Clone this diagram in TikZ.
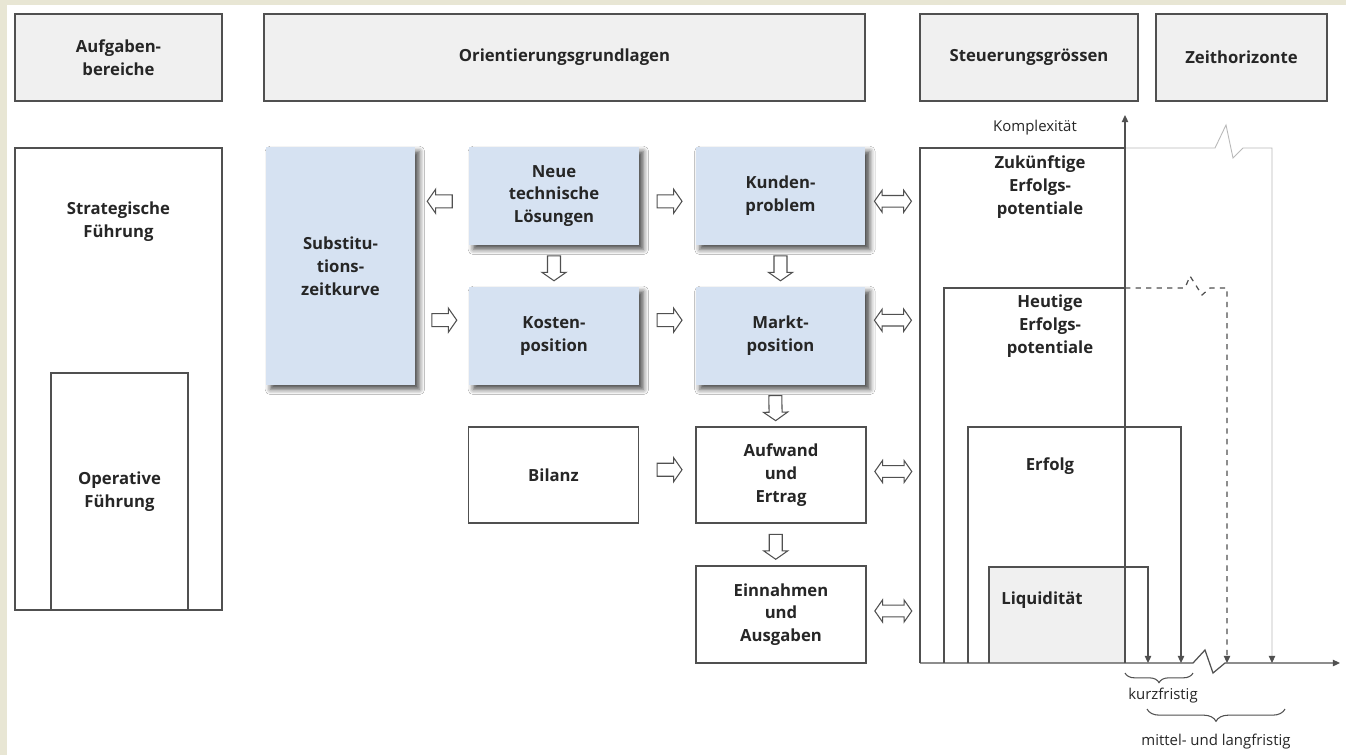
\documentclass[tikz,border=0pt]{standalone}
\usepackage{fontspec}
\setmainfont{Open Sans}
\usetikzlibrary{shapes.arrows,shadows.blur,decorations.pathreplacing,arrows.meta}
\definecolor{beige}{RGB}{232,230,212}
\definecolor{headgray}{RGB}{240,240,240}
\definecolor{lightblue}{RGB}{214,226,242}
\definecolor{linegray}{RGB}{80,80,80}
\tikzset{
  >={Triangle[length=4pt,width=3.6pt]},
  boxtext/.style={font=\bfseries\fontsize{9.5}{13}\selectfont, align=center, text=black!85, inner sep=0pt},
  smalltext/.style={font=\fontsize{8.5}{10}\selectfont, text=black!85, inner sep=0pt},
  headbox/.style={boxtext, draw=linegray, line width=0.8pt, fill=headgray, minimum height=1.74cm},
  plainbox/.style={boxtext, draw=linegray, line width=0.7pt, fill=white},
  bluebox/.style={boxtext, fill=lightblue, blur shadow={shadow xshift=2.5pt, shadow yshift=-2.5pt, shadow blur radius=3pt, shadow opacity=70}},
  chartline/.style={draw=linegray, line width=0.7pt},
  faintline/.style={draw=gray!55, line width=0.5pt},
  blockarrow/.style={single arrow, draw=linegray, fill=white, line width=0.6pt, inner sep=0pt, inner ysep=3.4pt, minimum height=0.5cm, single arrow head extend=3.2pt, single arrow tip angle=110, sloped, allow upside down},
  botharrow/.style={double arrow, draw=linegray, fill=white, line width=0.6pt, inner sep=0pt, inner ysep=3pt, minimum height=0.74cm, double arrow head extend=3pt, double arrow tip angle=110, sloped, allow upside down}
}
\begin{document}
\begin{tikzpicture}[x=0.02cm, y=-0.02cm]
\useasboundingbox (0,0) rectangle (1346,755);
\fill[beige] (0,0) rectangle (1346,755);
\fill[white] (7,5) rectangle (1346,755);
% column heads
\node[headbox, minimum width=4.14cm] (aufgaben) at (118.5,57.5) {Aufgaben-\\bereiche};
\node[headbox, minimum width=12.02cm] (orient) at (564.5,57.5) {Orientierungsgrundlagen};
\node[headbox, minimum width=4.36cm] (steuer) at (1029,57.5) {Steuerungsgrössen};
\node[headbox, minimum width=3.42cm] (zeit) at (1241.5,57.5) {Zeithorizonte};
% Aufgabenbereiche
\node[plainbox, minimum width=4.14cm, minimum height=9.24cm] (strat) at (118.5,379) {};
\node[boxtext] (strattxt) at (118.5,222) {Strategische\\Führung};
\node[plainbox, minimum width=2.74cm, minimum height=4.74cm] (oper) at (119.5,491.5) {Operative\\Führung};
% Orientierungsgrundlagen
\node[bluebox, minimum width=2.98cm, minimum height=4.76cm] (subst) at (340.5,266) {Substitu-\\tions-\\zeitkurve};
\node[bluebox, minimum width=3.4cm, minimum height=1.96cm] (neu) at (554,196) {Neue\\technische\\Lösungen};
\node[bluebox, minimum width=3.4cm, minimum height=1.96cm] (kunde) at (780.5,196) {Kunden-\\problem};
\node[bluebox, minimum width=3.4cm, minimum height=1.96cm] (kosten) at (554,336) {Kosten-\\position};
\node[bluebox, minimum width=3.4cm, minimum height=1.96cm] (markt) at (780.5,336) {Markt-\\position};
\node[plainbox, minimum width=3.4cm, minimum height=1.92cm] (bilanz) at (553.5,475) {Bilanz};
\node[plainbox, minimum width=3.4cm, minimum height=1.92cm] (aufwand) at (781,475) {Aufwand\\und\\Ertrag};
\node[plainbox, minimum width=3.4cm, minimum height=1.94cm] (einnahmen) at (781,614.5) {Einnahmen\\und\\Ausgaben};
% Steuerungsgroessen
\coordinate (zuk) at (920,148);
\fill[headgray] (989,567) rectangle (1125,663);
\draw[chartline] (920,663) -- (zuk) -- (1125,148);
\draw[chartline] (944,663) -- (944,288) -- (1125,288);
\draw[chartline, ->] (968,663) -- (968,427) -- (1181,427) -- (1181,663);
\draw[chartline, ->] (989,663) -- (989,567) -- (1148,567) -- (1148,663);
\draw[faintline, -{Triangle[length=4pt,width=3.6pt,color=linegray]}] (1125,148) -- (1215,148) -- (1226,125) -- (1233,158) -- (1243,148) -- (1272,148) -- (1272,663);
\draw[chartline, dashed, ->] (1125,288) -- (1185,288) -- (1190,276) -- (1202,295) -- (1210,288) -- (1227,288) -- (1227,663);
\draw[chartline, ->] (1125,663) -- (1125,115);
\draw[chartline, ->] (920,663) -- (1193,663) -- (1205,650) -- (1213,673) -- (1225,663) -- (1340,663);
\node[smalltext] (komplex) at (1035,128) {Komplexität};
\node[boxtext] (zuktxt) at (1040,187) {Zukünftige\\Erfolgs-\\potentiale};
\node[boxtext] (heutetxt) at (1050,326) {Heutige\\Erfolgs-\\potentiale};
\node[boxtext] (erfolgtxt) at (1050,466) {Erfolg};
\node[boxtext] (liqtxt) at (1042,600) {Liquidität};
% Zeithorizonte
\draw[chartline, line width=0.6pt, decorate, decoration={brace, mirror, amplitude=5.5pt}] (1125,673) -- (1193,673);
\node[smalltext] (kurz) at (1163,696) {kurzfristig};
\draw[chartline, line width=0.6pt, decorate, decoration={brace, mirror, amplitude=7pt}] (1147,709) -- (1285,709);
\node[smalltext] (mittel) at (1216,742) {mittel- und langfristig};
% block arrows
\path ([yshift=-3pt]neu.west) -- node[blockarrow]{} ([yshift=-3pt]neu.west -| subst.east);
\path ([yshift=9pt]kosten.west -| subst.east) -- node[blockarrow]{} ([yshift=9pt]kosten.west);
\path ([yshift=-3pt]neu.east) -- node[blockarrow]{} ([yshift=-3pt]kunde.west);
\path ([yshift=9pt]kosten.east) -- node[blockarrow]{} ([yshift=9pt]markt.west);
\path ([yshift=3pt]bilanz.east) -- node[blockarrow]{} ([yshift=3pt]bilanz.east -| aufwand.west);
\path (neu.south) -- node[blockarrow]{} (kosten.north);
\path (kunde.south) -- node[blockarrow]{} (markt.north);
\path ([xshift=-3pt]markt.south) -- node[blockarrow]{} ([xshift=-3pt]aufwand.north);
\path ([xshift=-3pt]aufwand.south) -- node[blockarrow]{} ([xshift=-3pt]einnahmen.north);
\path ([yshift=-3pt]kunde.east) -- node[botharrow]{} ([yshift=-3pt]kunde.east -| zuk);
\path ([yshift=9pt]markt.east) -- node[botharrow]{} ([yshift=9pt]markt.east -| zuk);
\path ([yshift=2pt]aufwand.east) -- node[botharrow]{} ([yshift=2pt]aufwand.east -| zuk);
\path ([yshift=2pt]einnahmen.east) -- node[botharrow]{} ([yshift=2pt]einnahmen.east -| zuk);
\end{tikzpicture}
\end{document}
